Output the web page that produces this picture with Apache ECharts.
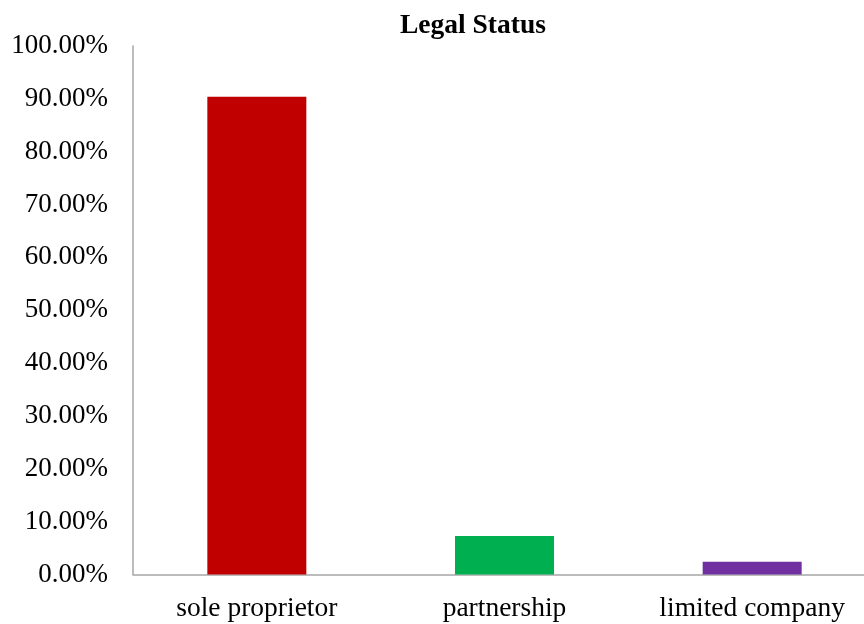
<!DOCTYPE html>
<html>
<head>
<meta charset="utf-8">
<script src="https://cdn.jsdelivr.net/npm/echarts@6/dist/echarts.min.js"></script>
<style>html,body{margin:0;padding:0;background:#fff;}#c{width:864px;height:624px;}</style>
</head>
<body>
<div id="c"></div>
<script>
const titleText = 'Legal Status';
const categories = ['sole proprietor', 'partnership', 'limited company'];
const values = [0.904, 0.073, 0.024];
const barColors = ['#C00000', '#00B050', '#7030A0'];

const chart = echarts.init(document.getElementById('c'), null, {renderer: 'canvas'});
chart.setOption({
  animation: false,
  backgroundColor: '#fff',
  title: {
    text: titleText,
    left: 395, top: 7,
    textStyle: {fontFamily: 'Liberation Serif', fontWeight: 'bold', fontSize: 27.5, color: '#000'}
  },
  grid: {left: 133, top: 46, width: 743, height: 528.5, containLabel: false, outerBoundsMode: 'none'},
  xAxis: {
    type: 'category', data: categories,
    axisLine: {lineStyle: {color: '#a6a6a6', width: 1.5}},
    axisTick: {show: false},
    axisLabel: {fontFamily: 'Liberation Serif', fontSize: 27.5, color: '#000', margin: 20}
  },
  yAxis: {
    type: 'value', min: 0, max: 1, interval: 0.1,
    axisLine: {show: true, lineStyle: {color: '#a6a6a6', width: 1.5}},
    axisTick: {show: false},
    splitLine: {show: false},
    axisLabel: {fontFamily: 'Liberation Serif', fontSize: 27, color: '#000', margin: 25,
      formatter: v => (v * 100).toFixed(2) + '%'}
  },
  series: [{
    type: 'bar', barWidth: 99,
    data: values.map((v, i) => ({value: v, itemStyle: {color: barColors[i]}}))
  }]
});
</script>
</body>
</html>
